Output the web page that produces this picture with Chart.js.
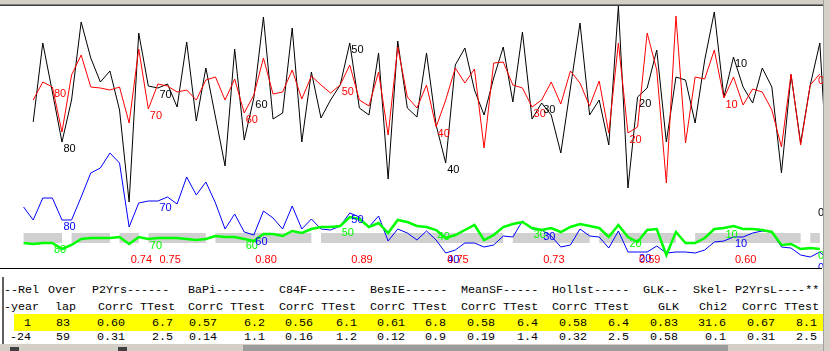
<!DOCTYPE html>
<html>
<head>
<meta charset="utf-8">
<script src="https://cdn.jsdelivr.net/npm/chart.js@4.4.0/dist/chart.umd.min.js"></script>
<style>
  body { margin:0; background:#fff; }
  #wrap { position:relative; width:830px; height:351px; overflow:hidden; background:#fff; }
  #top { position:absolute; left:0; top:0; width:830px; height:4px; background:#d4d0c8; border-bottom:1px solid #808080; }
  #top2 { position:absolute; left:0; top:5px; width:824px; height:1px; background:#404040; }
  #plot { position:absolute; left:0; top:6px; width:823px; height:262px; }
  #base { position:absolute; left:0; top:268px; width:822px; height:1px; background:#000; }
  #right { position:absolute; left:823px; top:0; width:6px; height:351px; background:#d4d0c8; border-left:1px solid #a0a0a0; }
  #lbar { position:absolute; left:2px; top:277px; width:2px; height:68px; background:#606060; }
  #yellow { position:absolute; left:14px; top:314px; width:810px; height:17px; background:#ffff00; }
  #bottom { position:absolute; left:0; top:344px; width:830px; height:7px; background:#d4d0c8; }
  .sq { position:absolute; top:347px; width:9px; height:4px; background:#404040; }
  #title { position:absolute; left:243px; top:345px; width:485px; height:6px; background:#9c9c9c; }
  .t { position:absolute; font:11.7px "Liberation Mono", "Courier New", monospace; line-height:16px; white-space:pre; color:#000; }
</style>
</head>
<body>
<div id="wrap">
  <div id="top"></div>
  <div id="top2"></div>
  <div id="plot"><canvas id="myChart" width="823" height="262"></canvas></div>
  <div id="base"></div>
  <div id="lbar"></div>
  <div id="yellow"></div>
  <div id="bottom"></div>
  <div class="sq" style="left:10px"></div>
  <div class="sq" style="left:118px"></div>
  <div id="title"></div>
  <div id="right"></div>
</div>
<script>
// ring-width curves, one value per year step (height units above the baseline)
const blackStart = 0
const black = [146,225,176,126,168,246,210,186,197,158, 66,235,182,180,184,161,226,147,200,151,
  102,219,128,170,251,149,155,240,126,196, 150,168,183,225,160,153,215,89,227,160,
  151,215,143,105,203,220,178,153,190,221, 166,236,149,165,153,115,180,245,153,168,
  123,262,80,171,180,218,126,191,188,145, 208,256,171,211,181,165,200,181,95,193,
  125,183,225,62]

const redStart = 0
const red = [168,186,181,136,193,213,181,180,178,181, 145,219,159,184,182,176,178,168,188,191,
  168,189,155,173,210,174,176,198,169,192, 183,175,183,203,168,162,196,133,221,171,
  160,183,141,168,200,185,199,120,205,206, 183,180,161,168,186,164,197,185,162,187,
  135,225,135,141,235,198,85,252,125,191, 189,218,170,191,163,179,176,158,121,194,
  123,183,194]

const blueStart = -1
const blue = [61, 48,70,70,48,48,71,95,100,115,105, 41,65,67,67,71,64,91,73,86,65,
  39,54,36,33,57,50,39,62,39,49, 39,38,42,55,51,41,52,27,39,35,
  28,37,28,15,18,25,25,21,23,32, 31,47,39,38,32,21,23,39,32,31,
  20,37,16,16,16,22,15,16,16,15, 18,26,27,31,31,35,37,36,21,20,
  13,11,16,7]

const greenStart = -1
const green = [25, 24,25,25,19,23,29,30,30,30,31, 24,31,29,30,30,30,29,28,29,32,
  31,31,29,27,34,34,32,37,35,39, 41,41,42,51,49,41,45,35,48,46,
  42,41,38,30,33,38,43,28,33,41, 44,46,40,38,40,36,41,44,42,40,
  31,43,31,26,38,39,13,36,25,25, 30,39,40,42,39,39,38,36,23,24,
  19,20,19]

// grey overlap runs [from, to]
const grayRuns = [[-1,3],[4,8],[9,11],[12,18],[19,29],[30,49],[50,58],[59,67],[69,80],[81,82]]
const grayLevel = 30

// decade marks
const decadeText = ['80','70','60','50','40','30','20','10','0']
const blackMarks = [3,13,23,33,43,53,63,73,83]
const redMarks = [2,12,22,32,42,52,62,72,82]

// segment correlations
const corrIdx = [10,13,23,33,43,53,63,73]
const corrText = ['0.74','0.75','0.80','0.89','0.75','0.73','0.59','0.60']
const corrLevel = 8

// table
const head1 = [['--Rel',4],['Over',48],['P2Yrs------',92],['BaPi-------',188],['C84F-------',279],['BesIE------',370],
  ['MeanSF-----',461],['Hollst-----',552],['GLK--',643],['Skel-',693],['P2YrsL----**',735]]
const head2 = [['-year',4],['lap',55],['CorrC TTest',98],['CorrC TTest',188],['CorrC TTest',279],['CorrC TTest',370],
  ['CorrC TTest',461],['CorrC TTest',552],['GLK',658],['Chi2',699],['CorrC TTest',742]]
const colRight = [31,70,125,173,217,265,313,357,405,446,495,538,587,629,678,726,775,817]
const rowA = ['1','83','0.60','6.7','0.57','6.2','0.56','6.1','0.61','6.8','0.58','6.4','0.58','6.4','0.83','31.6','0.67','8.1']
const rowB = ['-24','59','0.31','2.5','0.14','1.1','0.16','1.2','0.12','0.9','0.19','1.4','0.32','2.5','0.58','0.1','0.31','2.5']

function pts(arr, start) { return arr.map((v, k) => ({x: start + k, y: v})) }

const grayData = []
grayRuns.forEach(r => {
  grayData.push({x: r[0], y: grayLevel}, {x: r[1], y: grayLevel}, {x: r[1], y: null})
})

const markPlugin = {
  id: 'marks',
  afterDatasetsDraw(chart) {
    const ctx = chart.ctx, xs = chart.scales.x, ys = chart.scales.y
    ctx.save()
    ctx.font = '11px "Liberation Sans", Arial, sans-serif'
    ctx.textBaseline = 'middle'
    ctx.textAlign = 'left'
    chart.data.datasets.forEach(ds => {
      if (!ds.marks) return
      ctx.fillStyle = ds.borderColor
      ds.marks.forEach((i, k) => {
        const p = ds.data.find(d => d.x === i)
        if (!p) return
        let px = Math.min(xs.getPixelForValue(i) + 1.5, chart.chartArea.right - 5)
        ctx.fillText(decadeText[k], px, ys.getPixelForValue(p.y) + 7)
      })
    })
    ctx.fillStyle = '#ff0000'
    corrIdx.forEach((i, k) => {
      ctx.fillText(corrText[k], xs.getPixelForValue(i) + 1.5, ys.getPixelForValue(corrLevel))
    })
    ctx.restore()
  }
}

const myChart = document.getElementById('myChart').getContext('2d')
let graph = new Chart(myChart, {
  type: 'line',
  data: {
    datasets: [
      { data: pts(green, greenStart), borderColor: '#00ff00', borderWidth: 2.5, marks: redMarks, order: 1 },
      { data: pts(red, redStart), borderColor: '#ff0000', borderWidth: 1, marks: redMarks, order: 2 },
      { data: pts(blue, blueStart), borderColor: '#0000ff', borderWidth: 1, marks: blackMarks, order: 3 },
      { data: pts(black, blackStart), borderColor: '#000000', borderWidth: 1, marks: blackMarks, order: 4 },
      { data: grayData, borderColor: '#d0d0d0', borderWidth: 10, borderCapStyle: 'butt', spanGaps: false, order: 5 }
    ]
  },
  options: {
    responsive: false,
    animation: false,
    devicePixelRatio: 1,
    layout: { padding: 0 },
    elements: { point: { radius: 0 }, line: { tension: 0 } },
    plugins: { legend: { display: false }, tooltip: { enabled: false } },
    scales: {
      x: { type: 'linear', min: -3.461, max: 82.33, display: false },
      y: { min: 0, max: 262, display: false }
    }
  },
  plugins: [markPlugin]
})

// text table under the plot
const wrap = document.getElementById('wrap')
function put(text, css) {
  const s = document.createElement('span')
  s.className = 't'
  s.textContent = text
  Object.assign(s.style, css)
  wrap.insertBefore(s, document.getElementById('right'))
}
head1.forEach(h => put(h[0], {left: h[1] + 'px', top: '282px'}))
head2.forEach(h => put(h[0], {left: h[1] + 'px', top: '299px'}))
rowA.forEach((v, k) => put(v, {right: (830 - colRight[k]) + 'px', top: '315px'}))
rowB.forEach((v, k) => put(v, {right: (830 - colRight[k]) + 'px', top: '329px'}))
</script>
</body>
</html>
